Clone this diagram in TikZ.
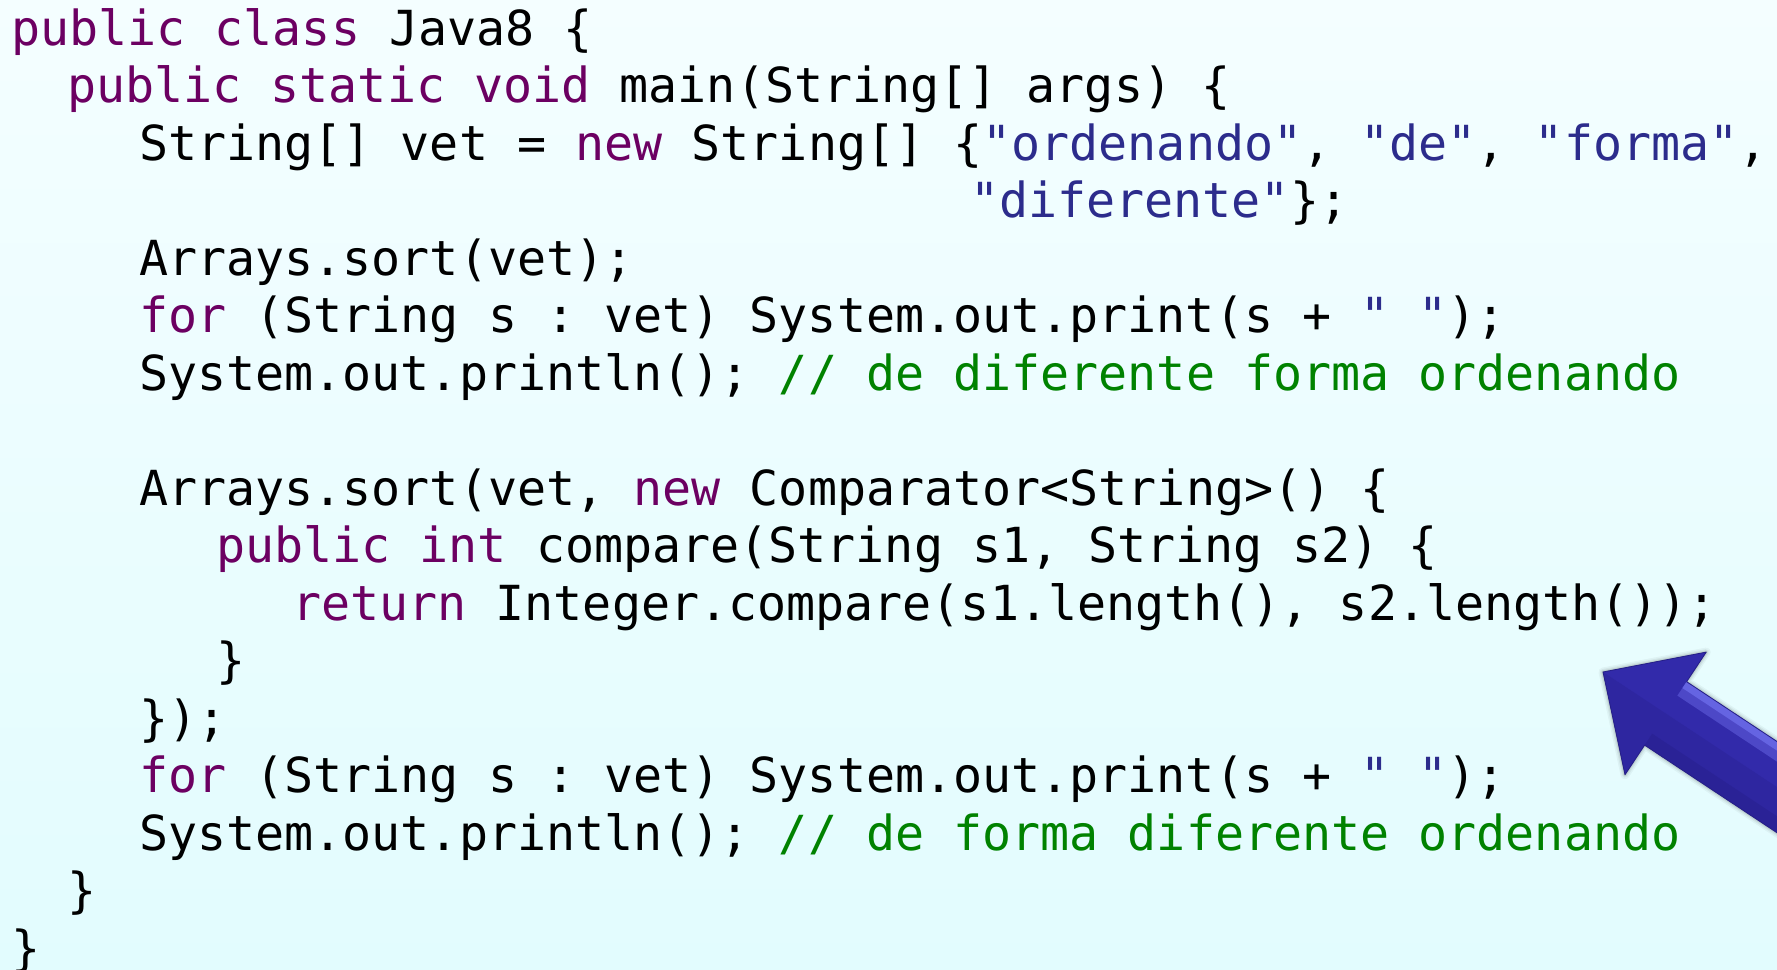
\documentclass[tikz,border=0pt]{standalone}
\usepackage{fontspec}
\usetikzlibrary{calc}
\newfontfamily\codefont{DejaVu Sans Mono}
\definecolor{kwcol}{RGB}{108,0,98}
\definecolor{strcol}{RGB}{44,44,140}
\definecolor{cmtcol}{RGB}{0,130,0}
\definecolor{bgtop}{RGB}{244,254,255}
\definecolor{bgbot}{RGB}{226,252,254}
\definecolor{arrowblue}{RGB}{50,42,170}
\definecolor{arrowlight}{RGB}{110,110,236}
\definecolor{arrowdark}{RGB}{28,22,115}
\newcommand\kwd[1]{\textcolor{kwcol}{#1}}
\newcommand\strg[1]{\textcolor{strcol}{#1}}
\newcommand\cmnt[1]{\textcolor{cmtcol}{#1}}
\begin{document}
\begin{tikzpicture}[x=1pt,y=-1pt,
  code/.style={anchor=base west, inner sep=0pt, text=black,
    font=\codefont\fontsize{48.3}{57}\selectfont\frenchspacing}]
% page background
\shade[top color=bgtop,bottom color=bgbot] (0,0) rectangle (1777,969);
\useasboundingbox (0,0) rectangle (1777,969);

% source listing, one node per line
\node[code] (l1)  at (11,45)    {\kwd{public class} Java8 \{};
\node[code] (l2)  at (67,102.5) {\kwd{public static void} main(String[] args) \{};
\node[code] (l3)  at (139,160)  {String[] vet = \kwd{new} String[] \{\strg{"ordenando"}, \strg{"de"}, \strg{"forma"},};
\node[code] (l4)  at (970,217.5){\strg{"diferente"}\};};
\node[code] (l5)  at (139,275)  {Arrays.sort(vet);};
\node[code] (l6)  at (139,332.5){\kwd{for} (String s : vet) System.out.print(s + \strg{" "});};
\node[code] (l7)  at (139,390)  {System.out.println(); \cmnt{// de diferente forma ordenando}};
\node[code] (l9)  at (139,505)  {Arrays.sort(vet, \kwd{new} Comparator<String>() \{};
\node[code] (l10) at (216,562.5){\kwd{public int} compare(String s1, String s2) \{};
\node[code] (l11) at (292,620)  {\kwd{return} Integer.compare(s1.length(), s2.length());};
\node[code] (l12) at (216,677.5){\}};
\node[code] (l13) at (139,735)  {\});};
\node[code] (l14) at (139,792.5){\kwd{for} (String s : vet) System.out.print(s + \strg{" "});};
\node[code] (l15) at (139,850)  {System.out.println(); \cmnt{// de forma diferente ordenando}};
\node[code] (l16) at (67,907.5) {\}};
\node[code] (l17) at (11,965)   {\}};

% block arrow pointing at the comparator line
\coordinate (tip) at (1603,672);
\coordinate (bt)  at (1706.2,652.1);
\coordinate (st)  at (1686.6,681.7);
\coordinate (ste) at (1936.8,847.3);
\coordinate (sbe) at (1894.8,910.7);
\coordinate (sb)  at (1644.6,745.1);
\coordinate (bb)  at (1625,774.7);
\def\arrowpath{(tip) -- (bt) -- (st) -- (ste) -- (sbe) -- (sb) -- (bb) -- cycle}
\begin{scope}
\clip (0,0) rectangle (1777,969);
% soft drop shadow
\begin{scope}[shift={(2,4)}]
\foreach \d/\o in {9/0.04,6/0.05,3.5/0.07,1.5/0.10}{
  \draw[black,opacity=\o,line width=\d pt,line join=round] \arrowpath;
}
\fill[black,opacity=0.25] \arrowpath;
\end{scope}
% arrow body
\fill[arrowblue] \arrowpath;
% darker lower half of the shaft and head
\fill[arrowdark,opacity=0.18] (bb) -- (sb) -- (sbe) -- ($(sbe)!0.5!(ste)$) -- ($(sb)!0.5!(st)$) -- (tip) -- cycle;
\fill[arrowdark,opacity=0.22] (sb) -- (sbe) -- ($(sbe)!0.18!(ste)$) -- ($(sb)!0.18!(st)$) -- cycle;
% highlight along the upper edge of the shaft
\fill[arrowlight,opacity=0.45] (st) -- (ste) -- ($(ste)!0.22!(sbe)$) -- ($(st)!0.22!(sb)$) -- cycle;
\fill[arrowlight,opacity=0.75] (st) -- (ste) -- ($(ste)!0.1!(sbe)$) -- ($(st)!0.1!(sb)$) -- cycle;
\draw[arrowdark!60!arrowblue,line width=0.8pt,line join=round] \arrowpath;
\end{scope}
\end{tikzpicture}
\end{document}
